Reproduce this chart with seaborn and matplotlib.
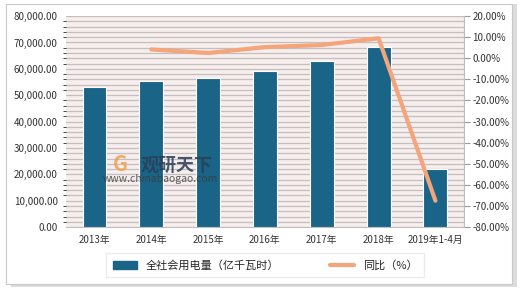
import matplotlib
matplotlib.use("Agg")
import matplotlib.pyplot as plt
import matplotlib.patches as mpatches
from matplotlib.ticker import FuncFormatter, MultipleLocator
import seaborn as sns
import pandas as pd

categories = ["2013年", "2014年", "2015年", "2016年", "2017年", "2018年", "2019年1-4月"]
consumption = [53223, 55233, 56600, 59198, 63077, 68449, 22200]
growth_cats = ["2014年", "2015年", "2016年", "2017年", "2018年", "2019年1-4月"]
growth = [4.2, 2.5, 5.3, 6.3, 9.5, -67.5]
bar_label = "全社会用电量（亿千瓦时）"
line_label = "同比（%）"

sns.set_style("white")
plt.rcParams["font.family"] = ["Noto Sans CJK SC", "DejaVu Sans"]

df_bar = pd.DataFrame({"cat": categories, "val": consumption})
df_line = pd.DataFrame({"x": [categories.index(c) for c in growth_cats], "val": growth})

fig = plt.figure(figsize=(5.2, 2.93), dpi=100)
fig.patch.set_facecolor("white")
# outer frame with shadow
fig.patches.append(mpatches.Rectangle((0.022, 0.02), 0.972, 0.965, transform=fig.transFigure,
                                      facecolor="#dcdcdc", edgecolor="none", zorder=-3))
fig.patches.append(mpatches.Rectangle((0.012, 0.03), 0.972, 0.955, transform=fig.transFigure,
                                      facecolor="white", edgecolor="#c8c8c8", lw=0.8, zorder=-2))

ax = fig.add_axes([0.127, 0.225, 0.765, 0.72])
ax.set_facecolor("#f7eeee")
sns.barplot(data=df_bar, x="cat", y="val", color="#1a6587", width=0.42, ax=ax,
            edgecolor="white", linewidth=0.8, saturation=1, zorder=3)
ax.set_ylim(0, 80000)
ax.set_xlim(-0.5, len(categories) - 0.5)
ax.yaxis.set_major_locator(MultipleLocator(10000))
ax.yaxis.set_minor_locator(MultipleLocator(2000))
ax.yaxis.set_major_formatter(FuncFormatter(lambda v, p: f"{v:,.2f}"))
ax.grid(axis="y", which="both", color="#c4bebe", lw=0.9, zorder=0)
ax.set_axisbelow(True)
ax.set_xlabel("")
ax.set_ylabel("")
for s in ["top", "right", "left"]:
    ax.spines[s].set_visible(False)
ax.spines["bottom"].set_color("#bfbfbf")
ax.tick_params(axis="y", labelsize=7, colors="#333333", length=0, pad=6)
ax.tick_params(axis="x", labelsize=7, colors="#333333", length=0, pad=6)

ax2 = ax.twinx()
sns.lineplot(data=df_line, x="x", y="val", color="#f4a57c", lw=3, ax=ax2, zorder=5)
ax2.set_ylim(-80, 20)
ax2.yaxis.set_major_locator(MultipleLocator(10))
ax2.yaxis.set_major_formatter(FuncFormatter(lambda v, p: f"{v:.2f}%"))
ax2.set_ylabel("")
ax2.set_xlabel("")
for s in ["top", "left", "bottom"]:
    ax2.spines[s].set_visible(False)
ax2.spines["right"].set_color("#bfbfbf")
ax2.tick_params(axis="y", labelsize=7, colors="#333333", length=4, color="#999999", direction="out", pad=2)
ax.set_xlim(-0.5, len(categories) - 0.5)

# watermark
fig.text(0.339, 0.437, "观研天下", fontsize=13, color="#2b3d55", alpha=0.85, fontweight="bold",
         ha="center", va="center", zorder=10)
fig.text(0.231, 0.44, "G", fontsize=15, color="#f0a050", alpha=0.85, fontweight="bold",
         ha="center", va="center", zorder=10)
fig.text(0.308, 0.389, "www.chinabaogao.com", fontsize=7.5, color="#3a3a3a", alpha=0.8,
         ha="center", va="center", zorder=10)

# legend
handles = [mpatches.Patch(color="#1a6587", label=bar_label),
           plt.Line2D([0], [0], color="#f4a57c", lw=3, label=line_label)]
leg = fig.legend(handles=handles, loc="center", bbox_to_anchor=(0.51, 0.095), ncol=2,
                 frameon=True, fontsize=8, handlelength=2.2, columnspacing=4.5, borderpad=0.3)
leg.get_frame().set_edgecolor("#e6e6e6")
leg.get_frame().set_boxstyle("square")

fig.savefig("out.png", dpi=100)
